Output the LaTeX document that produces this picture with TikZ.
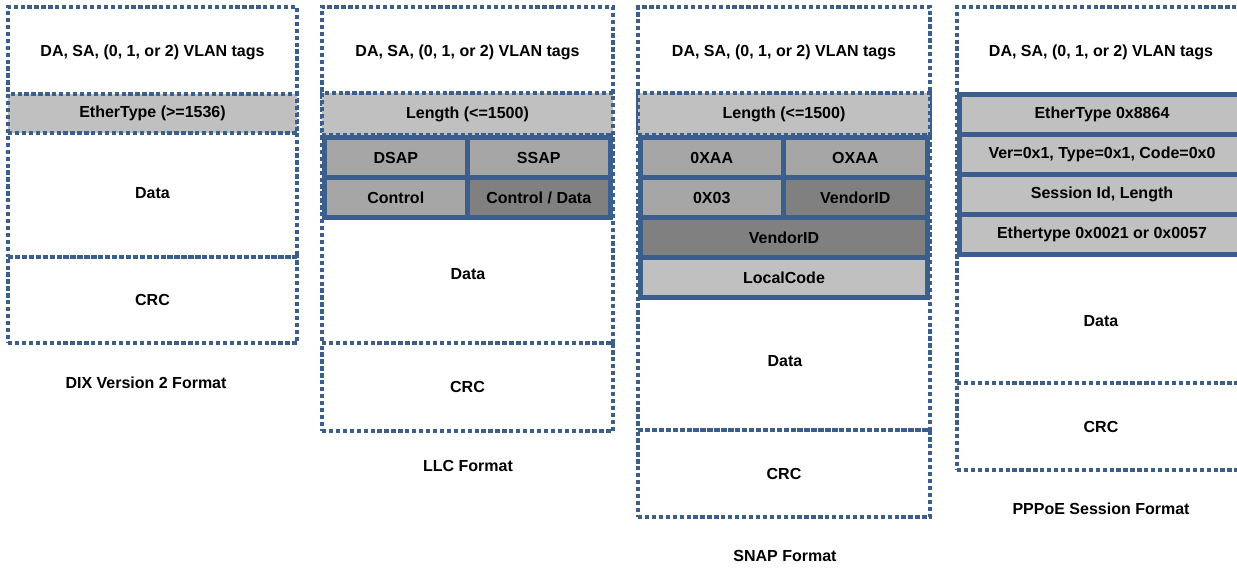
\documentclass[tikz,border=0pt]{standalone}
\usepackage{fontspec}
\setmainfont{Liberation Sans}
\usetikzlibrary{fit}
\definecolor{fblue}{RGB}{59,94,140}
\definecolor{lgray}{RGB}{192,192,192}
\definecolor{mgray}{RGB}{166,166,166}
\definecolor{dgray}{RGB}{128,128,128}
\tikzset{
  frame/.style={draw=fblue, line width=3.3pt, dash pattern=on 3.2pt off 2pt, inner sep=0pt},
  hdr/.style={frame, fill=lgray},
  cellbase/.style={draw=fblue, line width=3.75pt, inner sep=0pt},
  cellL/.style={cellbase, fill=lgray},
  cellM/.style={cellbase, fill=mgray},
  cellD/.style={cellbase, fill=dgray},
}
\begin{document}
\begin{tikzpicture}[x=0.75pt, y=-0.75pt, font=\bfseries\fontsize{12}{14}\selectfont]
\useasboundingbox (0,0) rectangle (1237,568);
\clip (0,0) rectangle (1237,568);
% ---------- Column 1: DIX ----------
\node[frame, fit={(8,7) (297,257)}] (f1) {};
\node[hdr, fit={(8,94) (297,133)}, label=center:{EtherType (>=1536)}] (h1) {};
\node[frame, fit={(8,257) (297,343)}, label=center:CRC] (c1) {};
\node (da1) at (152.5,52) {DA, SA, (0, 1, or 2) VLAN tags};
\node (d1) at (152.5,193) {Data};
\node (l1) at (146,383) {DIX Version 2 Format};
% ---------- Column 2: LLC ----------
\node[frame, fit={(322,7) (613,343)}] (f2) {};
\node[hdr, fit={(322,93) (613,135)}, label=center:{Length (<=1500)}] (h2) {};
\node[cellM, fit={(324.5,137.5) (467,177.5)}, label=center:DSAP] (dsap) {};
\node[cellM, fit={(467,137.5) (610.5,177.5)}, label=center:SSAP] (ssap) {};
\node[cellM, fit={(324.5,177.5) (467,217.5)}, label=center:Control] (ctl) {};
\node[cellD, fit={(467,177.5) (610.5,217.5)}, label=center:{Control / Data}] (ctld) {};
\node (da2) at (467.5,52) {DA, SA, (0, 1, or 2) VLAN tags};
\node (d2) at (468,274) {Data};
\node[frame, fit={(322,343) (613,431)}, label=center:CRC] (c2) {};
\node (l2) at (468,466) {LLC Format};
% ---------- Column 3: SNAP ----------
\node[frame, fit={(638,7) (930,430)}] (f3) {};
\node[hdr, fit={(638,93) (930,135)}, label=center:{Length (<=1500)}] (h3) {};
\node[cellM, fit={(640.5,137.5) (783,177.5)}, label=center:0XAA] (aa1) {};
\node[cellM, fit={(783,137.5) (927.5,177.5)}, label=center:OXAA] (aa2) {};
\node[cellM, fit={(640.5,177.5) (783,217.5)}, label=center:0X03] (x03) {};
\node[cellD, fit={(783,177.5) (927.5,217.5)}, label=center:VendorID] (vid1) {};
\node[cellD, fit={(640.5,217.5) (927.5,257.5)}, label=center:VendorID] (vid2) {};
\node[cellL, fit={(640.5,257.5) (927.5,297.5)}, label=center:LocalCode] (lc) {};
\node (da3) at (784,52) {DA, SA, (0, 1, or 2) VLAN tags};
\node (d3) at (785,361) {Data};
\node[frame, fit={(638,430) (930,517)}, label=center:CRC] (c3) {};
\node (l3) at (785,556) {SNAP Format};
% ---------- Column 4: PPPoE ----------
\node[frame, fit={(957,7) (1245,383)}] (f4) {};
\node[cellL, fit={(959,94.5) (1245,134.5)}, label=center:{EtherType 0x8864}] (p1) {};
\node[cellL, fit={(959,134.5) (1245,174.5)}, label=center:{Ver=0x1, Type=0x1, Code=0x0}] (p2) {};
\node[cellL, fit={(959,174.5) (1245,214.5)}, label=center:{Session Id, Length}] (p3) {};
\node[cellL, fit={(959,214.5) (1245,254.5)}, label=center:{Ethertype 0x0021 or 0x0057}] (p4) {};
\node (da4) at (1101,52) {DA, SA, (0, 1, or 2) VLAN tags};
\node (d4) at (1101,321) {Data};
\node[frame, fit={(957,383) (1245,470)}, label=center:CRC] (c4) {};
\node (l4) at (1101,509) {PPPoE Session Format};
\end{tikzpicture}
\end{document}
